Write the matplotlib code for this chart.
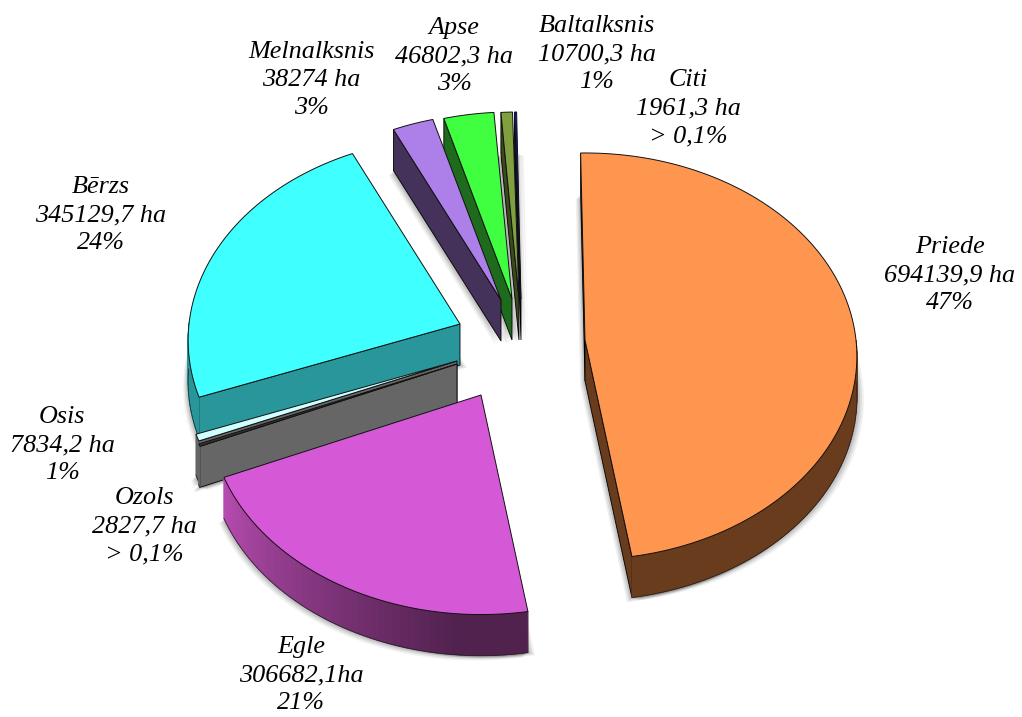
import numpy as np
import matplotlib
matplotlib.use("Agg")
import matplotlib.pyplot as plt
from matplotlib.colors import to_rgb

species = ["Priede", "Egle", "Ozols", "Osis", "Bērzs", "Melnalksnis", "Apse", "Baltalksnis", "Citi"]
areas = [694139.9, 306682.1, 2827.7, 7834.2, 345129.7, 38274, 46802.3, 10700.3, 1961.3]
area_labels = ["694139,9 ha", "306682,1ha", "2827,7 ha", "7834,2 ha", "345129,7 ha",
               "38274 ha", "46802,3 ha", "10700,3 ha", "1961,3 ha"]
percent_labels = ["47%", "21%", "> 0,1%", "1%", "24%", "3%", "3%", "1%", "> 0,1%"]

top_colors = ["#FF964F", "#D558D6", "#333333", "#CFFFFF", "#40FFFF", "#AD7FE8", "#40FF40", "#80A040", "#14148C"]
wall_colors = ["#693C1E", "#52224F", "#666666", "#666666", "#28969A", "#44325A", "#1E6B1E", "#3A4A1C", "#0A0A40"]

# where each exploded slice has its tip, in pixels
tips = {"Priede": (585, 340), "Egle": (481, 395), "Ozols": (457, 364), "Osis": (457, 361),
        "Bērzs": (460, 324), "Melnalksnis": (501, 300), "Apse": (512, 299),
        "Baltalksnis": (519, 299), "Citi": (521, 299)}
label_pos = {"Priede": (950, 275), "Egle": (301, 675), "Ozols": (144, 526), "Osis": (62, 445),
             "Bērzs": (101, 215), "Melnalksnis": (311, 80), "Apse": (454, 56),
             "Baltalksnis": (597, 54), "Citi": (688, 108)}

start_angle = -1
rx, ry = 271, 202
tilt = 0.08
depth = 41


def ground_to_screen(tip, angle):
    # angle is clockwise from the top, perspective makes the near side larger
    u = np.sin(np.radians(angle))
    v = np.cos(np.radians(angle))
    f = 1 / (1 + tilt * v)
    return tip[0] + rx * u * f, tip[1] - ry * v * f


def draw_shadow(ax, xs, ys):
    for off, alpha in [(7, 0.06), (5, 0.08), (3, 0.1), (1, 0.12)]:
        for dx, dy in [(off, off * 0.4), (-off * 0.7, off * 0.7)]:
            ax.fill(xs + dx, ys + dy + depth, color="black", alpha=alpha, lw=0, zorder=1)


def draw_slice(ax, name, a0, a1, top, wall, z):
    tip = tips[name]
    angles = np.linspace(a0, a1, max(3, int((a1 - a0) / 1.5) + 2))
    arc_x, arc_y = ground_to_screen(tip, angles)
    xs = np.r_[tip[0], arc_x]
    ys = np.r_[tip[1], arc_y]

    draw_shadow(ax, xs, ys)

    # cut faces, only the ones turned towards the viewer
    cuts = []
    if np.sin(np.radians(a0)) < 0:
        cuts.append((arc_x[0], arc_y[0]))
    if np.sin(np.radians(a1)) > 0:
        cuts.append((arc_x[-1], arc_y[-1]))
    for ex, ey in cuts:
        ax.fill([tip[0], ex, ex, tip[0]], [tip[1], ey, ey + depth, tip[1] + depth],
                facecolor=wall, edgecolor="black", lw=0.6, zorder=z)

    # outer rim on the near half, Egle gets lighter towards the left
    base = np.array(to_rgb(wall))
    for i in range(len(angles) - 1):
        mid = (angles[i] + angles[i + 1]) / 2
        if np.cos(np.radians(mid)) > 0:
            continue
        shade = 1.0
        if name == "Egle":
            shade = 1 + 1.2 * np.clip((mid - 185) / 60, 0, 1)
        col = np.clip(base * shade, 0, 1)
        ax.fill([arc_x[i], arc_x[i + 1], arc_x[i + 1], arc_x[i]],
                [arc_y[i], arc_y[i + 1], arc_y[i + 1] + depth, arc_y[i] + depth],
                facecolor=col, edgecolor=col, lw=0.8, zorder=z)
    near = np.cos(np.radians(angles)) <= 0
    if near.any():
        ax.plot(arc_x[near], arc_y[near] + depth, color="#222222", lw=0.5, zorder=z)

    ax.fill(xs, ys, facecolor=top, edgecolor="#111111", lw=0.7, joinstyle="miter", zorder=z)


fig = plt.figure(figsize=(10.22, 7.17), dpi=100)
ax = fig.add_axes([0, 0, 1, 1])
ax.set_xlim(0, 1022)
ax.set_ylim(717, 0)
ax.axis("off")

total = sum(areas)
sweeps = [a / total * 360 for a in areas]
edges = start_angle + np.cumsum([0] + sweeps)

draw_order = ["Citi", "Baltalksnis", "Apse", "Melnalksnis", "Bērzs", "Osis", "Ozols", "Egle", "Priede"]
for z, name in enumerate(draw_order):
    i = species.index(name)
    draw_slice(ax, name, edges[i], edges[i + 1], top_colors[i], wall_colors[i], z + 2)

for i, name in enumerate(species):
    x, y = label_pos[name]
    ax.text(x, y, f"{name}\n{area_labels[i]}\n{percent_labels[i]}", ha="center", va="center",
            family="Liberation Serif", style="italic", fontsize=18.8, linespacing=1.36,
            color="black", zorder=20)

fig.savefig("out.png", dpi=100)
plt.close(fig)
